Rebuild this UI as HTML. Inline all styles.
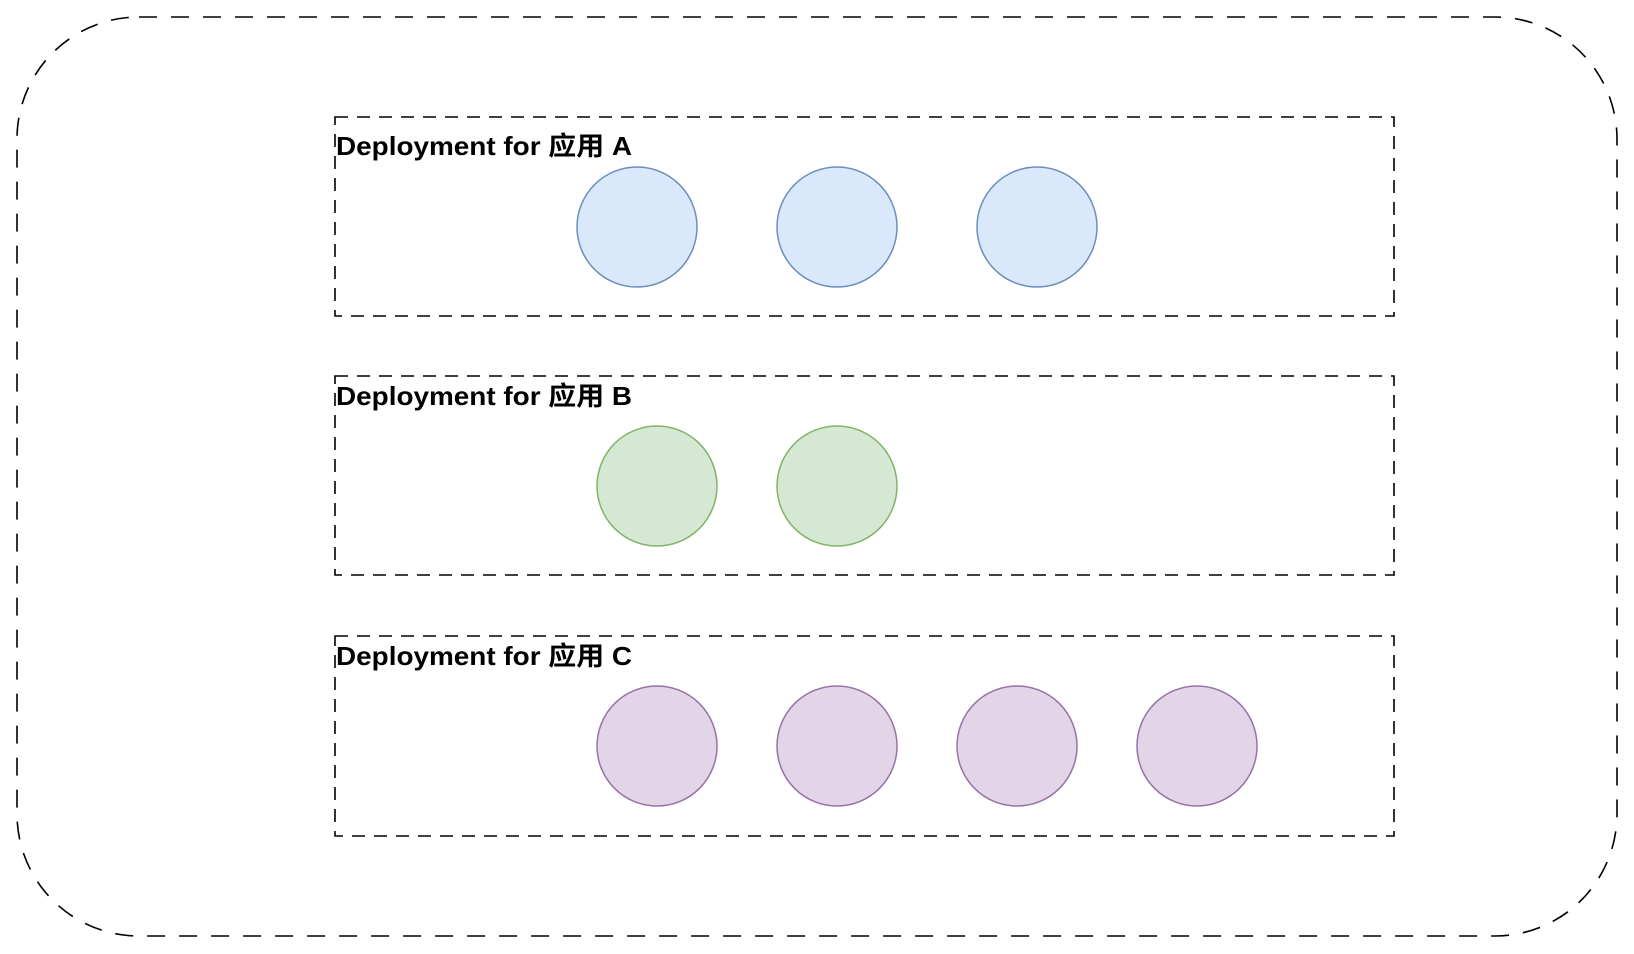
<!DOCTYPE html>
<html><head><meta charset="utf-8"><style>
html,body{margin:0;padding:0;background:#fff;}
svg{display:block;}
text{font-family:"Liberation Sans","Noto Sans CJK SC",sans-serif;font-weight:bold;font-size:26px;fill:#000;}
</style></head><body>
<svg width="1634" height="954" viewBox="0 0 1634 954" xmlns="http://www.w3.org/2000/svg">
<rect x="17" y="17" width="1600" height="919" rx="122" ry="122" fill="#fff" stroke="#000" stroke-width="1.6" stroke-dasharray="18 14"/>
<g fill="none" stroke="#000" stroke-width="1.6" stroke-dasharray="13 9">
<rect x="335" y="117" width="1059" height="199"/>
<rect x="335" y="376" width="1059" height="199"/>
<rect x="335" y="636" width="1059" height="200"/>
</g>
<text x="336" y="155" textLength="296" lengthAdjust="spacingAndGlyphs">Deployment for 应用 A</text>
<text x="336" y="405" textLength="296" lengthAdjust="spacingAndGlyphs">Deployment for 应用 B</text>
<text x="336" y="665" textLength="296" lengthAdjust="spacingAndGlyphs">Deployment for 应用 C</text>
<g fill="#dae8fc" stroke="#6c8ebf" stroke-width="1.5">
<circle cx="637" cy="227" r="60"/><circle cx="837" cy="227" r="60"/><circle cx="1037" cy="227" r="60"/>
</g>
<g fill="#d5e8d4" stroke="#82b366" stroke-width="1.5">
<circle cx="657" cy="486" r="60"/><circle cx="837" cy="486" r="60"/>
</g>
<g fill="#e1d5e7" stroke="#9673a6" stroke-width="1.5">
<circle cx="657" cy="746" r="60"/><circle cx="837" cy="746" r="60"/><circle cx="1017" cy="746" r="60"/><circle cx="1197" cy="746" r="60"/>
</g>
</svg>
</body></html>
